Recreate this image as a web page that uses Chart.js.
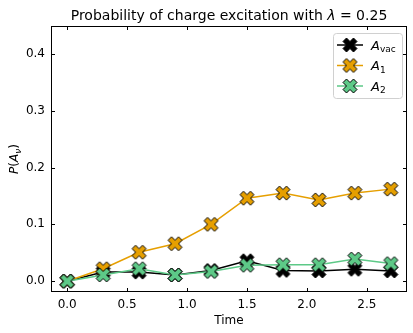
<!DOCTYPE html>
<html>
<head>
<meta charset="utf-8">
<script src="https://cdn.jsdelivr.net/npm/chart.js@4"></script>
<style>
  html, body { margin: 0; padding: 0; background: #fff; }
  #wrap { width: 413px; height: 333px; }
</style>
</head>
<body>
<div id="wrap"><canvas id="chart" width="413" height="333"></canvas></div>
<script>
const times = [0, 0.3, 0.6, 0.9, 1.2, 1.5, 1.8, 2.1, 2.4, 2.7];
const pVac = [0, 0.016, 0.016, 0.011, 0.019, 0.036, 0.019, 0.018, 0.021, 0.018];
const pA1 = [0, 0.022, 0.051, 0.066, 0.100, 0.146, 0.155, 0.143, 0.155, 0.162];
const pA2 = [0, 0.011, 0.022, 0.011, 0.017, 0.028, 0.029, 0.029, 0.039, 0.031];
const xTicks = [0, 0.5, 1.0, 1.5, 2.0, 2.5];
const yTicks = [0, 0.1, 0.2, 0.3, 0.4];
const seriesNames = [['A', 'vac'], ['A', '1'], ['A', '2']];
const seriesColors = ['#000000', '#E69F00', '#5DC987'];

const FONT = '"DejaVu Sans", sans-serif';

// filled "X" marker like matplotlib's 'X'
function makeMarker(color, size) {
  const c = document.createElement('canvas');
  const pad = 2;
  c.width = c.height = size + pad * 2;
  const ctx = c.getContext('2d');
  const h = size / 2, m = c.width / 2;
  const pts = [[-0.25,-0.5],[0,-0.25],[0.25,-0.5],[0.5,-0.25],[0.25,0],[0.5,0.25],
               [0.25,0.5],[0,0.25],[-0.25,0.5],[-0.5,0.25],[-0.25,0],[-0.5,-0.25]];
  ctx.beginPath();
  pts.forEach((p, i) => {
    const x = m + p[0] * size, y = m + p[1] * size;
    i ? ctx.lineTo(x, y) : ctx.moveTo(x, y);
  });
  ctx.closePath();
  ctx.fillStyle = color;
  ctx.fill();
  ctx.lineWidth = 1;
  ctx.strokeStyle = '#000';
  ctx.stroke();
  return c;
}

const markers = seriesColors.map(c => makeMarker(c, 14));
const allSeries = [pVac, pA1, pA2];

const datasets = allSeries.map((vals, i) => ({
  label: seriesNames[i].join('_'),
  data: times.map((t, j) => ({ x: t, y: vals[j] })),
  borderColor: seriesColors[i],
  backgroundColor: seriesColors[i],
  borderWidth: 1.5,
  pointStyle: markers[i],
  order: 3 - i,
  tension: 0,
}));

function drawSubLabel(ctx, x, y, main, sub, size, align) {
  ctx.save();
  ctx.textBaseline = 'alphabetic';
  ctx.font = 'italic ' + size + 'px ' + FONT;
  const w1 = ctx.measureText(main).width;
  ctx.font = Math.round(size * 0.7) + 'px ' + FONT;
  const w2 = ctx.measureText(sub).width;
  let x0 = align === 'center' ? x - (w1 + w2) / 2 : x;
  ctx.fillStyle = '#000';
  ctx.font = 'italic ' + size + 'px ' + FONT;
  ctx.textAlign = 'left';
  ctx.fillText(main, x0, y);
  ctx.font = Math.round(size * 0.7) + 'px ' + FONT;
  ctx.fillText(sub, x0 + w1, y + size * 0.22);
  ctx.restore();
}

const decorPlugin = {
  id: 'decor',
  afterDraw(chart) {
    const ctx = chart.ctx;
    const a = chart.chartArea;
    const xs = chart.scales.x, ys = chart.scales.y;
    ctx.save();
    // frame
    ctx.strokeStyle = '#000';
    ctx.lineWidth = 1;
    ctx.strokeRect(a.left + 0.5, a.top + 0.5, a.right - a.left - 1, a.bottom - a.top - 1);
    // inward ticks on all sides
    ctx.beginPath();
    xTicks.forEach(v => {
      const px = Math.round(xs.getPixelForValue(v)) + 0.5;
      ctx.moveTo(px, a.bottom); ctx.lineTo(px, a.bottom - 4);
      ctx.moveTo(px, a.top); ctx.lineTo(px, a.top + 4);
    });
    yTicks.forEach(v => {
      const py = Math.round(ys.getPixelForValue(v)) + 0.5;
      ctx.moveTo(a.left, py); ctx.lineTo(a.left + 4, py);
      ctx.moveTo(a.right, py); ctx.lineTo(a.right - 4, py);
    });
    ctx.stroke();

    // title
    ctx.fillStyle = '#000';
    ctx.textAlign = 'center';
    ctx.textBaseline = 'alphabetic';
    ctx.font = '14px ' + FONT;
    const cx = (a.left + a.right) / 2;
    const t1 = 'Probability of charge excitation with ';
    const t2 = 'λ';
    const t3 = ' = 0.25';
    const w1 = ctx.measureText(t1).width;
    ctx.font = 'italic 14px ' + FONT;
    const w2 = ctx.measureText(t2).width;
    ctx.font = '14px ' + FONT;
    const w3 = ctx.measureText(t3).width;
    let tx = cx - (w1 + w2 + w3) / 2;
    ctx.textAlign = 'left';
    ctx.fillText(t1, tx, 20);
    ctx.font = 'italic 14px ' + FONT;
    ctx.fillText(t2, tx + w1, 20);
    ctx.font = '14px ' + FONT;
    ctx.fillText(t3, tx + w1 + w2, 20);

    // x label
    ctx.font = '12px ' + FONT;
    ctx.textAlign = 'center';
    ctx.fillText('Time', cx, 324);

    // y label P(A_nu)
    ctx.save();
    ctx.translate(18, (a.top + a.bottom) / 2);
    ctx.rotate(-Math.PI / 2);
    ctx.textAlign = 'left';
    ctx.font = 'italic 12px ' + FONT;
    const parts = [['P', 'italic 12px '], ['(', '12px '], ['A', 'italic 12px ']];
    let tot = 0;
    const ws = parts.map(p => { ctx.font = p[1] + FONT; return ctx.measureText(p[0]).width; });
    ctx.font = 'italic 9px ' + FONT;
    const wsub = ctx.measureText('ν').width;
    ctx.font = '12px ' + FONT;
    const wclose = ctx.measureText(')').width;
    tot = ws.reduce((s, w) => s + w, 0) + wsub + wclose;
    let lx = -tot / 2;
    parts.forEach((p, i) => { ctx.font = p[1] + FONT; ctx.fillText(p[0], lx, 0); lx += ws[i]; });
    ctx.font = 'italic 9px ' + FONT;
    ctx.fillText('ν', lx, 3);
    lx += wsub;
    ctx.font = '12px ' + FONT;
    ctx.fillText(')', lx, 0);
    ctx.restore();

    // legend
    const lx0 = 333, ly0 = 33, lw = 69, lh = 65;
    ctx.beginPath();
    ctx.roundRect(lx0 + 0.5, ly0 + 0.5, lw, lh, 3);
    ctx.fillStyle = 'rgba(255,255,255,0.8)';
    ctx.fill();
    ctx.strokeStyle = '#d0d0d0';
    ctx.stroke();
    seriesNames.forEach((nm, i) => {
      const y = ly0 + 12 + i * 20.5;
      ctx.beginPath();
      ctx.strokeStyle = seriesColors[i];
      ctx.lineWidth = 1.5;
      ctx.moveTo(lx0 + 4, y); ctx.lineTo(lx0 + 30, y);
      ctx.stroke();
      const mk = markers[i];
      ctx.drawImage(mk, lx0 + 17 - mk.width / 2, y - mk.height / 2);
      drawSubLabel(ctx, lx0 + 38, y + 4.5, nm[0], nm[1], 13, 'left');
    });
    ctx.restore();
  }
};

new Chart(document.getElementById('chart'), {
  type: 'line',
  data: { datasets },
  plugins: [decorPlugin],
  options: {
    responsive: false,
    animation: false,
    devicePixelRatio: 1,
    layout: { padding: { top: 26, right: 6, left: 0, bottom: 0 } },
    plugins: {
      legend: { display: false },
      title: { display: false },
      tooltip: { enabled: false },
    },
    scales: {
      x: {
        type: 'linear',
        min: -0.135,
        max: 2.835,
        grid: { display: false, drawTicks: false },
        border: { display: false },
        afterBuildTicks: s => { s.ticks = xTicks.map(v => ({ value: v })); },
        afterFit: s => { s.height = 41; },
        ticks: {
          padding: 6,
          color: '#000',
          font: { family: FONT, size: 12 },
          callback: v => v.toFixed(1),
          maxRotation: 0,
        },
      },
      y: {
        min: -0.019,
        max: 0.449,
        grid: { display: false, drawTicks: false },
        border: { display: false },
        afterBuildTicks: s => { s.ticks = yTicks.map(v => ({ value: v })); },
        afterFit: s => { s.width = 51; },
        ticks: {
          padding: 6,
          color: '#000',
          font: { family: FONT, size: 12 },
          callback: v => v.toFixed(1),
        },
      },
    },
  },
});
</script>
</body>
</html>
